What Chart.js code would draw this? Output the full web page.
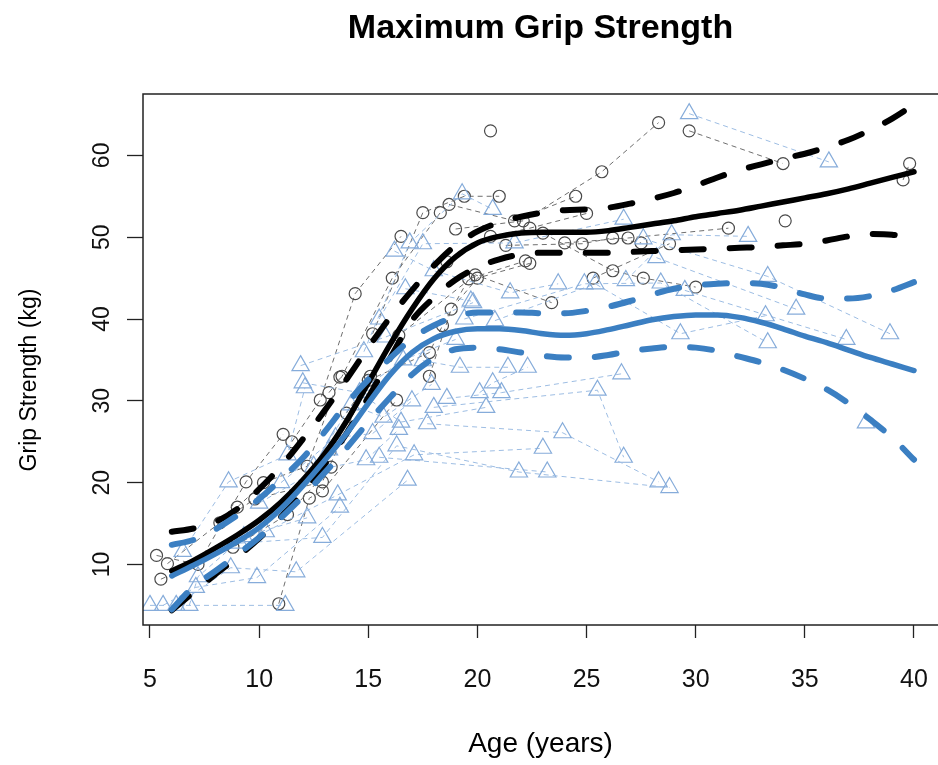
<!DOCTYPE html>
<html>
<head>
<meta charset="utf-8">
<title>Maximum Grip Strength</title>
<script src="https://cdn.jsdelivr.net/npm/chart.js@4.4.1/dist/chart.umd.min.js"></script>
<style>
  html, body { margin: 0; padding: 0; background: #fff; }
  #wrap { width: 938px; height: 765px; }
</style>
</head>
<body>
<div id="wrap"><canvas id="gripChart" width="938" height="765"></canvas></div>
<script>
// axis ticks
const ageTicks = [5, 10, 15, 20, 25, 30, 35, 40];
const gripTicks = [10, 20, 30, 40, 50, 60];

// one entry per boy: [age (years), grip (kg)] for each visit
const boys = [
  [[5.3, 11.1], [7.2, 10.0], [9.4, 20.1], [11.1, 25.9]],
  [[5.5, 8.2], [8.8, 12.1], [11.3, 16.1], [13.3, 21.9]],
  [[5.8, 10.1], [8.2, 15.1], [9.8, 18.0], [12.9, 20.1], [15.1, 33.0]],
  [[10.9, 5.2], [12.3, 18.1], [12.9, 19.0], [16.3, 30.1]],
  [[9.0, 17.0], [10.2, 20.0], [12.2, 22.0], [13.7, 32.9]],
  [[11.5, 25.0], [12.8, 30.1], [14.4, 43.1], [16.5, 50.1]],
  [[13.2, 31.0], [13.8, 33.0], [16.1, 45.0], [18.3, 53.0]],
  [[15.2, 38.2], [17.5, 53.0], [19.4, 55.0], [21.0, 55.0]],
  [[15.0, 32.5], [17.8, 35.9], [18.4, 39.2], [19.6, 44.9], [22.2, 47.1]],
  [[14.0, 28.5], [16.4, 38.0], [19.9, 45.4], [23.4, 42.0]],
  [[17.8, 33.0], [18.8, 41.2], [20.0, 45.0], [22.4, 46.8]],
  [[18.7, 54.0], [21.7, 52.0], [24.5, 55.0]],
  [[19.0, 51.0], [22.1, 52.0], [25.7, 58.0], [28.3, 64.0]],
  [[18.6, 47.0], [20.6, 50.1], [22.4, 51.1], [25.0, 52.9]],
  [[20.6, 63.0]],
  [[24.0, 49.3], [26.9, 49.9], [31.5, 51.1]],
  [[21.3, 49.0], [24.8, 49.2], [26.2, 49.9], [27.5, 49.3]],
  [[25.3, 45.0], [28.8, 49.2]],
  [[23.0, 50.5], [26.2, 45.9], [27.6, 45.0], [30.0, 43.9]],
  [[29.7, 63.0], [34.0, 59.0]],
  [[34.1, 52.0]],
  [[39.5, 57.0], [39.8, 59.0]]
];

// one entry per girl
const girls = [
  [[5.0, 5.0], [11.2, 5.0]],
  [[5.6, 5.0], [7.1, 7.2], [9.9, 8.4], [13.7, 17.0]],
  [[6.2, 5.0], [8.7, 9.6], [11.7, 9.1], [16.8, 20.3]],
  [[6.8, 5.0], [7.2, 8.5], [9.3, 13.4], [12.2, 15.7]],
  [[6.5, 11.6], [8.6, 20.1], [11.3, 23.4], [12.1, 31.6]],
  [[9.1, 12.6], [12.9, 13.3], [16.3, 24.5], [21.9, 21.3], [28.8, 19.4]],
  [[11.9, 34.3], [15.8, 37.8], [19.8, 42.0]],
  [[12.0, 32.2], [14.6, 31.0], [16.5, 27.4], [20.4, 29.2]],
  [[10.3, 14.0], [13.6, 18.5], [17.1, 23.4], [23.0, 24.2]],
  [[15.5, 23.1], [23.2, 21.3]],
  [[17.7, 27.2], [23.9, 26.1], [28.3, 20.1]],
  [[18.0, 29.2], [25.5, 31.3], [26.7, 23.1]],
  [[18.6, 30.3], [21.1, 31.0], [26.6, 33.3]],
  [[17.5, 34.9], [19.2, 34.1], [21.4, 34.1]],
  [[20.1, 31.0], [20.7, 32.2], [22.3, 34.1]],
  [[14.8, 36.0], [16.9, 49.3], [19.3, 55.3], [20.7, 53.4]],
  [[15.5, 40.0], [17.5, 49.2], [21.7, 49.3], [26.7, 52.2]],
  [[16.2, 48.3], [18.0, 45.9], [21.5, 43.2], [23.7, 44.3]],
  [[19.4, 40.0], [24.9, 44.3], [28.4, 44.4], [33.3, 37.1]],
  [[20.8, 39.8], [25.4, 44.3], [29.3, 38.2], [33.2, 40.4]],
  [[26.8, 44.7], [28.9, 50.3], [32.4, 50.1]],
  [[27.6, 49.8], [33.3, 45.2], [38.9, 38.2]],
  [[28.2, 47.5], [34.6, 41.2]],
  [[29.7, 65.1], [36.1, 59.2]],
  [[29.5, 43.5], [36.9, 37.5]],
  [[37.8, 27.3]],
  [[16.7, 43.7], [19.7, 42.2]],
  [[10.0, 17.5], [12.6, 21.5], [14.9, 22.8], [16.4, 26.5]],
  [[11.0, 20.0], [13.5, 25.5], [15.2, 26.0], [17.0, 30.0]],
  [[12.5, 22.0], [14.2, 29.5], [15.7, 28.0], [17.9, 32.0]],
  [[13.2, 24.0], [15.0, 31.9], [16.6, 35.0], [19.0, 37.5]]
];

// fitted curves with their bands
const fitAges = [6, 7, 8, 9, 10, 11, 12, 13, 14, 15, 16, 17, 18, 19, 20, 21, 22, 23,
                 24, 25, 26, 27, 28, 29, 30, 31, 32, 33, 34, 35, 36, 37, 38, 39, 40];
const boysFit = [9.2, 10.5, 12.0, 13.6, 15.4, 17.6, 20.3, 23.5, 27.5, 32.2, 36.9, 41.2, 44.9, 47.6, 49.3, 50.1, 50.5, 50.6,
                 50.6, 50.6, 50.8, 51.2, 51.6, 52.0, 52.5, 52.9, 53.3, 53.8, 54.3, 54.8, 55.3, 55.9, 56.6, 57.3, 58.0];
const boysUpper = [14.0, 14.4, 15.2, 16.8, 19.2, 22.0, 25.3, 28.8, 32.6, 36.5, 40.2, 43.5, 46.5, 49.0, 50.7, 51.8, 52.5, 53.0,
                   53.3, 53.4, 53.6, 54.1, 54.7, 55.4, 56.3, 57.3, 58.2, 58.9, 59.6, 60.2, 61.0, 61.9, 63.1, 64.5, 66.2];
const boysLower = [4.4, 6.6, 8.8, 10.9, 13.2, 15.8, 18.8, 22.2, 26.0, 30.4, 35.2, 39.8, 42.6, 44.8, 46.3, 47.3, 47.9, 48.1,
                   48.1, 48.1, 48.1, 48.2, 48.3, 48.4, 48.5, 48.6, 48.7, 48.8, 49.0, 49.2, 49.6, 50.1, 50.4, 50.3, 49.7];
const girlsFit = [8.6, 9.9, 11.3, 12.8, 14.5, 16.8, 19.6, 22.7, 26.0, 29.7, 33.2, 35.9, 37.6, 38.5, 38.8, 38.8, 38.6, 38.2,
                  38.0, 38.2, 38.7, 39.3, 39.9, 40.3, 40.5, 40.5, 40.2, 39.6, 38.8, 37.9, 37.1, 36.2, 35.3, 34.5, 33.7];
const girlsUpper = [12.4, 13.0, 14.3, 16.0, 18.0, 20.4, 23.0, 26.2, 29.6, 32.6, 35.2, 37.6, 39.2, 40.3, 40.8, 40.8, 40.8, 40.7,
                    40.7, 41.0, 41.5, 42.2, 43.0, 43.7, 44.1, 44.3, 44.4, 44.3, 43.8, 43.0, 42.5, 42.5, 42.8, 43.5, 44.5];
const girlsLower = [4.5, 7.3, 9.2, 11.2, 13.3, 15.7, 18.3, 21.2, 24.2, 27.4, 30.4, 33.2, 35.2, 36.3, 36.5, 36.3, 35.9, 35.5,
                    35.3, 35.3, 35.6, 36.1, 36.4, 36.6, 36.5, 36.1, 35.4, 34.7, 33.8, 32.7, 31.4, 29.7, 27.7, 25.5, 22.8];

const FONT = "'Liberation Sans', Arial, Helvetica, sans-serif";
const BLUE = '#3b7fc2';

function subjectSet(visits, isBoy) {
  return {
    data: visits.map(([x, y]) => ({ x, y })),
    showLine: true,
    borderColor: isBoy ? '#6e6e6e' : '#9dbde3',
    borderWidth: 1,
    borderDash: [5, 4],
    pointStyle: isBoy ? 'circle' : 'triangle',
    pointRadius: isBoy ? 6 : 10,
    pointBorderColor: isBoy ? '#4a4a4a' : '#86acda',
    pointBorderWidth: 1.2,
    pointBackgroundColor: 'rgba(0,0,0,0)',
    order: isBoy ? 3 : 2
  };
}

function curveSet(values, color, dashed, order) {
  return {
    data: fitAges.map((x, i) => ({ x, y: values[i] })),
    showLine: true,
    borderColor: color,
    borderWidth: dashed ? 6 : 5.5,
    borderDash: dashed ? [22, 26] : [],
    borderCapStyle: 'round',
    cubicInterpolationMode: 'monotone',
    pointRadius: 0,
    order: order
  };
}

const datasets = [
  curveSet(girlsFit, BLUE, false, 0),
  curveSet(girlsUpper, BLUE, true, 0),
  curveSet(girlsLower, BLUE, true, 0),
  curveSet(boysFit, '#000', false, 1),
  curveSet(boysUpper, '#000', true, 1),
  curveSet(boysLower, '#000', true, 1),
  ...girls.map(g => subjectSet(g, false)),
  ...boys.map(b => subjectSet(b, true))
];

// box around the plot region plus the rotated y label
const frame = {
  id: 'frame',
  afterDraw(chart) {
    const { ctx, chartArea: a } = chart;
    ctx.save();
    ctx.strokeStyle = '#222';
    ctx.lineWidth = 1.5;
    ctx.strokeRect(a.left, a.top, a.right - a.left + 20, a.bottom - a.top);
    ctx.translate(30, 380);
    ctx.rotate(-Math.PI / 2);
    ctx.fillStyle = '#000';
    ctx.font = '23px ' + FONT;
    ctx.textAlign = 'center';
    ctx.textBaseline = 'middle';
    ctx.fillText('Grip Strength (kg)', 0, 0);
    ctx.restore();
  }
};

new Chart(document.getElementById('gripChart'), {
  type: 'scatter',
  data: { datasets },
  plugins: [frame],
  options: {
    responsive: false,
    devicePixelRatio: 1,
    animation: false,
    layout: { padding: 0, autoPadding: false },
    plugins: {
      legend: { display: false },
      tooltip: { enabled: false },
      title: {
        display: true,
        text: 'Maximum Grip Strength',
        color: '#000',
        fullSize: false,
        font: { family: FONT, size: 34, weight: 'bold' },
        padding: { top: 8, bottom: 45.2 }
      }
    },
    scales: {
      x: {
        type: 'linear',
        min: 4.68,
        max: 41.1,
        afterBuildTicks: s => { s.ticks = ageTicks.map(v => ({ value: v })); },
        afterFit: s => { s.height = 140; s.paddingLeft = 0; s.paddingRight = 0; },
        grid: { display: true, drawOnChartArea: false, drawTicks: true, tickLength: 13, color: '#222', tickWidth: 1.3 },
        border: { display: false },
        ticks: { color: '#111', padding: 27, maxRotation: 0, font: { family: FONT, size: 25 } },
        title: {
          display: true,
          text: 'Age (years)',
          color: '#000',
          font: { family: FONT, size: 28 },
          padding: { top: 0, bottom: 4 }
        }
      },
      y: {
        type: 'linear',
        min: 2.6,
        max: 67.5,
        afterBuildTicks: s => { s.ticks = gripTicks.map(v => ({ value: v })); },
        afterFit: s => { s.width = 143; s.paddingTop = 0; s.paddingBottom = 0; },
        grid: { display: true, drawOnChartArea: false, drawTicks: true, tickLength: 16, color: '#222', tickWidth: 1.3 },
        border: { display: false },
        ticks: {
          color: '#111',
          padding: 12,
          minRotation: 90,
          maxRotation: 90,
          crossAlign: 'center',
          font: { family: FONT, size: 23 }
        }
      }
    }
  }
});
</script>
</body>
</html>
